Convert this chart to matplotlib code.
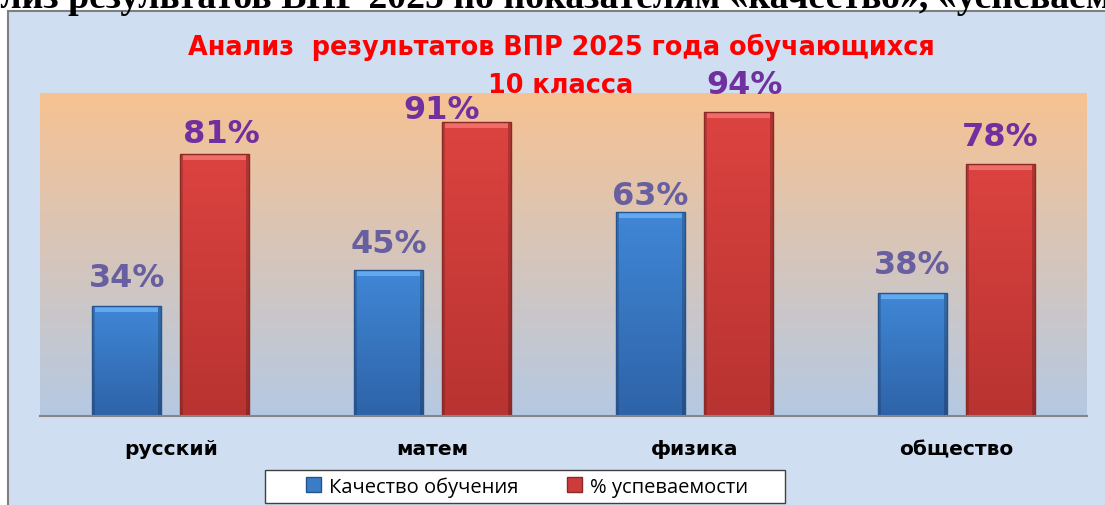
import numpy as np
import matplotlib
matplotlib.use('Agg')
from matplotlib import pyplot as plt
from matplotlib.patches import Rectangle, Patch
from matplotlib.colors import to_rgb

# data
subjects = ['русский', 'матем', 'физика', 'общество']
quality = [34, 45, 63, 38]      # Качество обучения, %
success = [81, 91, 94, 78]      # % успеваемости
series_names = ['Качество обучения', '% успеваемости']
header = 'Анализ результатов ВПР 2025 по показателям «качество», «успеваемость»'
title1 = 'Анализ  результатов ВПР 2025 года обучающихся'
title2 = '10 класса'

W, H = 1105, 506
fig = plt.figure(figsize=(W/100, H/100), dpi=100)
fig.patch.set_facecolor('white')

#chart box with light blue background
bg = Rectangle((8/W, -0.1), 1.2, 1 - 12/H + 0.1, transform=fig.transFigure,
               facecolor='#cfdef0', edgecolor='#7f7f7f', lw=1.5, zorder=-10)
fig.patches.append(bg)

ax = fig.add_axes([40/W, 1 - 416.5/H, 1047/W, 322.5/H])
ax.set_xlim(-0.5, 3.5)
ax.set_ylim(0, 100)

#plot area gradient peach -> light blue
top = np.array(to_rgb('#f7c292'))
bot = np.array(to_rgb('#b5c9e3'))
t = np.linspace(0, 1, 256)[:, None, None]
grad = top*(1-t) + bot*t
ax.imshow(grad, extent=[-0.5, 3.5, 0, 100], aspect='auto', origin='upper', zorder=0)

px_per_unit = 322.5/100

def shade(x0, x1, h, c_top, c_bot, c_bev):
    n = max(int(h*px_per_unit), 2)
    m = 69
    tt = np.linspace(0, 1, n)[:, None, None]
    img = np.array(to_rgb(c_top))*(1-tt) + np.array(to_rgb(c_bot))*tt
    img = np.repeat(img, m, axis=1)
    img[:6, 3:-3] = to_rgb(c_bev)
    img[:, :3] = img[:, :3]*0.85
    img[:, -3:] = img[:, -3:]*0.8
    ax.imshow(img, extent=[x0, x1, 0, h], aspect='auto', origin='upper', zorder=2,
              interpolation='bilinear')

x = np.arange(len(subjects))
bw = 0.263
off = 0.168
bars_q = ax.bar(x - off, quality, bw, color='none', edgecolor='#24538f', lw=1, zorder=3)
bars_s = ax.bar(x + off, success, bw, color='none', edgecolor='#8c2826', lw=1, zorder=3)
for b in bars_q:
    shade(b.get_x(), b.get_x()+b.get_width(), b.get_height(), '#4087d6', '#2e63a8', '#62a9ee')
for b in bars_s:
    shade(b.get_x(), b.get_x()+b.get_width(), b.get_height(), '#dc4340', '#b83331', '#f06c67')

#value labels (hand placed in the original)
q_dy = [20, 18, 8, 20]
s_dy = [12, 4, 19, 19]
s_dx = [7, -35, 6, 0]
for i, v in enumerate(quality):
    ax.annotate(f'{v}%', (x[i]-off, v), xytext=(0, q_dy[i]), textcoords='offset pixels',
                ha='center', va='baseline', fontsize=23, fontweight='bold',
                color='#675f9f', family='DejaVu Sans', zorder=5)
for i, v in enumerate(success):
    ax.annotate(f'{v}%', (x[i]+off, v), xytext=(s_dx[i], s_dy[i]), textcoords='offset pixels',
                ha='center', va='baseline', fontsize=23, fontweight='bold',
                color='#7030a0', family='DejaVu Sans', zorder=5)

for i, s in enumerate(subjects):
    ax.text(x[i], -(455-416.5)/322.5, s, transform=ax.get_xaxis_transform(),
            ha='center', va='baseline', fontsize=14.5, fontweight='bold', color='black')

ax.set_xticks([])
ax.set_yticks([])
for k in ['top', 'left', 'right']:
    ax.spines[k].set_visible(False)
ax.spines['bottom'].set_color('#868686')
ax.spines['bottom'].set_linewidth(1.5)
ax.spines['bottom'].set_zorder(4)

#title
fig.text(561/W, 1 - 55/H, title1, ha='center', va='baseline', color='#ff0000',
         fontsize=18.4, fontweight='bold')
fig.text(561/W, 1 - 93/H, title2, ha='center', va='baseline', color='#ff0000',
         fontsize=18.4, fontweight='bold')

#legend box
fig.patches.append(Rectangle((265/W, 1 - 504/H), 520/W, 33/H, transform=fig.transFigure,
                             facecolor='white', edgecolor='#404040', lw=1, zorder=2))
handles = [Patch(facecolor='#3b7cc9', edgecolor='#24538f'),
           Patch(facecolor='#cc3c3a', edgecolor='#8c2826')]
fig.legend(handles, series_names, loc='center', bbox_to_anchor=(527/W, 1 - 487.5/H),
           ncol=2, frameon=False, handlelength=0.75, handleheight=0.75,
           handletextpad=0.4, columnspacing=2.4,
           prop={'family': ['Open Sans', 'DejaVu Sans'], 'size': 14.5})

#header line of the page, cut off at the top
renderer = fig.canvas.get_renderer()
tmp = fig.text(0, 0, header[3:-5], fontsize=20, family='Liberation Serif', fontweight='bold')
wsub = tmp.get_window_extent(renderer).width
tmp.remove()
fs = 20*1110/wsub
tmp = fig.text(0, 0, header[:3], fontsize=fs, family='Liberation Serif', fontweight='bold')
wpre = tmp.get_window_extent(renderer).width
tmp.remove()
fig.text(-wpre/W, 1 - 8/H, header, fontsize=fs, family='Liberation Serif',
         fontweight='bold', color='black', ha='left', va='baseline')

fig.savefig('out.png', dpi=100)
